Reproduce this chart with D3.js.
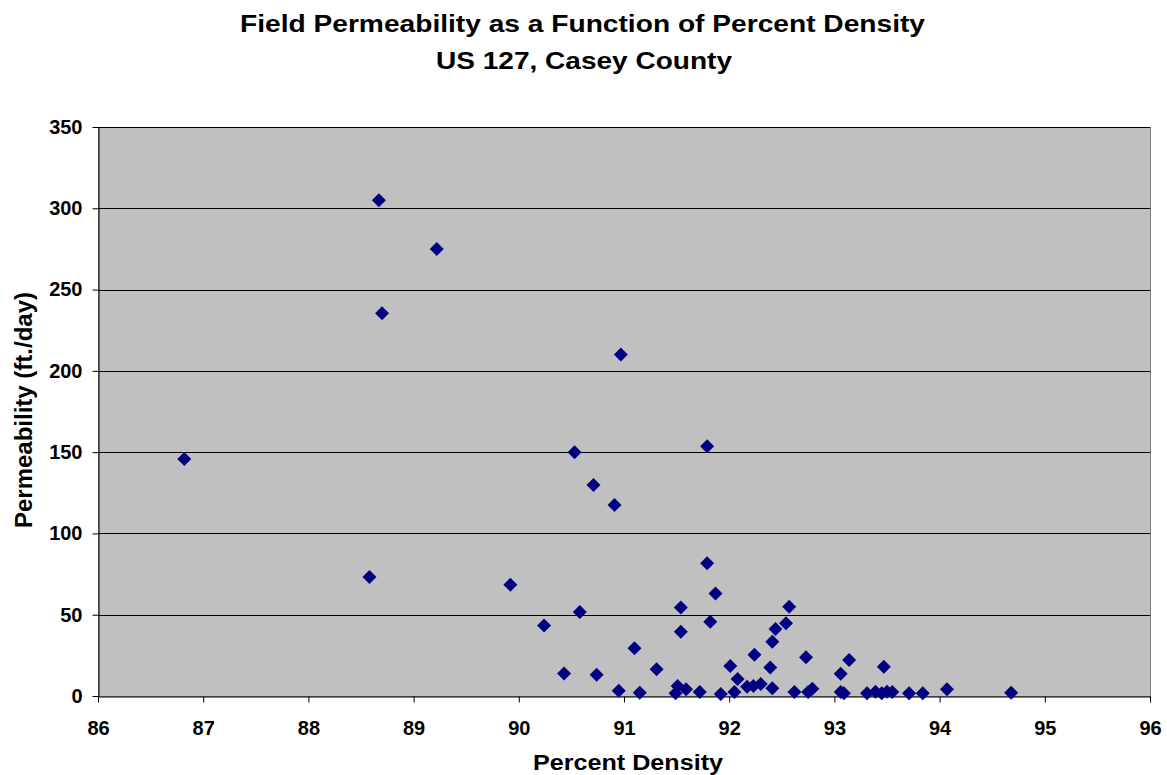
<!DOCTYPE html>
<html>
<head>
<meta charset="utf-8">
<script src="https://cdn.jsdelivr.net/npm/d3@7"></script>
<style>
	body { margin: 0; background: #fff; }
	text { font-family: 'Liberation Sans', Arial, sans-serif; font-weight: bold; fill: #000; }
</style>
</head>
<body>
<div class="container"></div>
<script>
// percent density (x) and permeability in ft/day (y)
var density = [
	86.82, 88.58, 88.67, 88.70, 89.22, 89.92, 90.24, 90.43, 90.53, 90.58,
	90.71, 90.74, 90.91, 90.95, 90.97, 91.10, 91.15, 91.31, 91.49, 91.51,
	91.54, 91.54, 91.59, 91.72, 91.79, 91.79, 91.82, 91.87, 91.92, 92.01,
	92.05, 92.08, 92.17, 92.23, 92.24, 92.30, 92.39, 92.41, 92.41, 92.44,
	92.54, 92.57, 92.62, 92.73, 92.75, 92.79, 93.06, 93.06, 93.09, 93.14,
	93.31, 93.39, 93.45, 93.47, 93.50, 93.55, 93.71, 93.84, 94.07, 94.68
];
var permeability = [
	145.8, 73.2, 305, 235.5, 275, 68.5, 43.4, 13.9, 150, 51.6,
	129.8, 13.0, 117.5, 3.3, 210, 29.4, 2.0, 16.5, 1.7, 6.2,
	54.5, 39.5, 4.1, 2.5, 81.6, 153.7, 45.7, 63.1, 1.2, 18.5,
	2.5, 10.5, 5.7, 6.2, 25.4, 7.4, 17.6, 4.7, 33.4, 41.2,
	44.7, 54.9, 2.5, 23.8, 2.5, 4.5, 13.7, 2.5, 1.7, 22.1,
	1.7, 2.6, 1.7, 18.0, 2.6, 2.5, 1.7, 1.7, 4.1, 2.0
];
var xTicks = [86, 87, 88, 89, 90, 91, 92, 93, 94, 95, 96];
var yTicks = [0, 50, 100, 150, 200, 250, 300, 350];

var points = density.map(function(d, i) {
	return { x: d, y: permeability[i] };
});

var width = 1167,
	height = 775;
// plot box (note: "top" is reserved on window, so use plotTop)
var plotLeft = 98,
	plotRight = 1150,
	plotTop = 127,
	plotBottom = 696;

var svg = d3
	.select('.container')
	.append('svg')
	.attr('width', width)
	.attr('height', height);

var x = d3.scaleLinear().domain([86, 96]).range([plotLeft, plotRight]);
var y = d3.scaleLinear().domain([0, 350]).range([plotBottom, plotTop]);

// plot area
svg
	.append('rect')
	.attr('x', plotLeft + 0.5)
	.attr('y', plotTop + 0.5)
	.attr('width', plotRight - plotLeft)
	.attr('height', plotBottom - plotTop)
	.attr('fill', '#c0c0c0')
	.attr('stroke', '#808080')
	.attr('stroke-width', 1);

// gridlines
svg
	.append('g')
	.selectAll('line')
	.data(yTicks.slice(1))
	.enter()
	.append('line')
	.attr('x1', plotLeft)
	.attr('x2', plotRight)
	.attr('y1', function(d) {
		return Math.round(y(d)) + 0.5;
	})
	.attr('y2', function(d) {
		return Math.round(y(d)) + 0.5;
	})
	.attr('stroke', '#000')
	.attr('stroke-width', 1);

var xAxis = svg
	.append('g')
	.attr('transform', 'translate(0,' + (plotBottom + 0.5) + ')')
	.call(
		d3
			.axisBottom(x)
			.tickValues(xTicks)
			.tickSize(6)
			.tickSizeOuter(0)
			.tickPadding(18)
			.tickFormat(d3.format('d'))
	);

var yAxis = svg
	.append('g')
	.attr('transform', 'translate(' + (plotLeft + 0.5) + ',0)')
	.call(
		d3
			.axisLeft(y)
			.tickValues(yTicks)
			.tickSize(6)
			.tickSizeOuter(0)
			.tickPadding(10)
			.tickFormat(d3.format('d'))
	);

[xAxis, yAxis].forEach(function(a) {
	a.select('.domain').attr('stroke', '#000');
	a.selectAll('.tick line').attr('stroke', '#000');
	a.selectAll('.tick text')
		.style('font-size', '20px')
		.style('font-family', "'Liberation Sans', Arial, sans-serif")
		.style('font-weight', 'bold')
		.attr('fill', '#000');
});

// markers
var diamond = 'M0,-7L7,0L0,7L-7,0Z';
svg
	.append('g')
	.selectAll('path')
	.data(points)
	.enter()
	.append('path')
	.attr('d', diamond)
	.attr('transform', function(d) {
		return 'translate(' + x(d.x) + ',' + y(d.y) + ')';
	})
	.attr('fill', '#000080');

// titles (the source chart is stretched sideways, so fix the text widths)
svg
	.append('text')
	.attr('x', 240)
	.attr('y', 32)
	.attr('textLength', 685)
	.attr('lengthAdjust', 'spacingAndGlyphs')
	.style('font-size', '23px')
	.text('Field Permeability as a Function of Percent Density');

svg
	.append('text')
	.attr('x', 436)
	.attr('y', 69)
	.attr('textLength', 296)
	.attr('lengthAdjust', 'spacingAndGlyphs')
	.style('font-size', '23px')
	.text('US 127, Casey County');

svg
	.append('text')
	.attr('x', 533)
	.attr('y', 770)
	.attr('textLength', 190)
	.attr('lengthAdjust', 'spacingAndGlyphs')
	.style('font-size', '22px')
	.text('Percent Density');

svg
	.append('text')
	.attr('transform', 'translate(32,410) rotate(-90)')
	.attr('text-anchor', 'middle')
	.style('font-size', '24px')
	.text('Permeability (ft./day)');
</script>
</body>
</html>
